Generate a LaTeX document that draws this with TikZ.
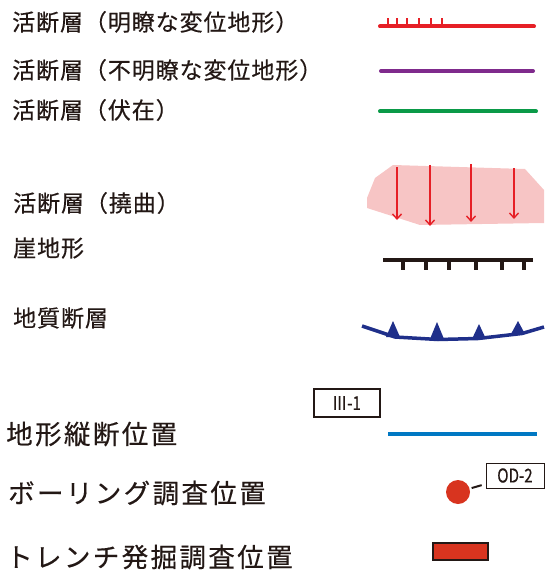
\documentclass[tikz,border=0pt]{standalone}
\usepackage{fontspec}
\newfontfamily\jp[LetterSpace=4, FakeBold=0.4]{Noto Sans CJK JP}
\newfontfamily\jpb[LetterSpace=9, FakeBold=0.4]{Noto Sans CJK JP}
\newfontfamily\lbl[FakeBold=0.3]{Noto Sans CJK JP}
\usetikzlibrary{arrows.meta}
\definecolor{ink}{HTML}{231815}
\definecolor{faultred}{HTML}{E61F26}
\definecolor{faultpurple}{HTML}{7F2A8C}
\definecolor{faultgreen}{HTML}{0A9A48}
\definecolor{flexpink}{HTML}{F7C5C5}
\definecolor{geoblue}{HTML}{1F2F8A}
\definecolor{secblue}{HTML}{0078C3}
\definecolor{borered}{HTML}{D8341F}
\tikzset{
  legtext/.style={anchor=west, inner sep=0pt, text=ink, font=\jp\fontsize{23}{27}\selectfont},
  legtextb/.style={anchor=west, inner sep=0pt, text=ink, font=\jpb\fontsize{26.5}{31}\selectfont},
  sym/.style={line width=4pt, line cap=round},
  flexarrow/.style={faultred, line width=1.6pt, -{Straight Barb[length=5pt,width=9pt,line width=1.4pt]}},
  tagbox/.style={draw=ink, fill=white, inner sep=0pt, text=ink, font=\lbl\fontsize{19}{21}\selectfont}
}
\begin{document}
\begin{tikzpicture}[x=1pt,y=-1pt]
\useasboundingbox (0,0) rectangle (544,572);
% texts
\node[legtext] (t1) at (12,22) {活断層（明瞭な変位地形）};
\node[legtext] (t2) at (12,70) {活断層（不明瞭な変位地形）};
\node[legtext] (t3) at (12,110) {活断層（伏在）};
\node[legtext] (t4) at (13,203) {活断層（撓曲）};
\node[legtext] (t5) at (13,248) {崖地形};
\node[legtext] (t6) at (13,318) {地質断層};
\node[legtextb] (t7) at (6,434) {地形縦断位置};
\node[legtextb] (t8) at (8,493) {ボーリング調査位置};
\node[legtextb] (t9) at (6,557) {トレンチ発掘調査位置};
% clear active fault
\draw[sym, faultred] (380,26.5) -- (534,26.5);
\foreach \x in {388,397,407,419,431,442}
  \draw[faultred, line width=2pt] (\x,27) -- (\x,18);
% unclear
\draw[sym, faultpurple] (381,71) -- (533,71);
% buried
\draw[sym, faultgreen] (380,111.5) -- (536,111.5);
% flexure
\fill[flexpink] (393,165) -- (525,169) -- (544,190) -- (544,223) -- (420,225) -- (367,208) -- (367,198) -- (375,178) -- cycle;
\draw[flexarrow] (397,167) -- (397,220);
\draw[flexarrow] (430,165) -- (430,226);
\draw[flexarrow] (471,164) -- (471,222);
\draw[flexarrow] (514,168) -- (514,219);
% scarp
\draw[ink, line width=4pt] (383,260) -- (533,260);
\foreach \x in {403,426,449,476,502,524}
  \draw[ink, line width=4pt] (\x,260) -- (\x,270);
% geological fault
\draw[geoblue, line width=3.5pt, line join=round] (362,326) -- (395,337) -- (438,339.5) -- (478,338.5) -- (522,333.5) -- (544,327);
\fill[geoblue] (386,337) -- (393,321) -- (400,337) -- cycle;
\fill[geoblue] (430,339) -- (437,322) -- (444,339) -- cycle;
\fill[geoblue] (472,339) -- (479,324) -- (486,339) -- cycle;
\fill[geoblue] (511,334) -- (518,321) -- (525,334) -- cycle;
% section position
\node[tagbox, line width=2pt, minimum width=66pt, minimum height=28pt] (b1) at (346.5,403) {\scalebox{0.8}[1]{Ⅲ-1}};
\draw[secblue, line width=4pt] (388,433.5) -- (537,433.5);
% boring
\node[circle, fill=borered, inner sep=0pt, minimum size=24pt] (bh) at (458,492) {};
\node[tagbox, line width=1pt, minimum width=58pt, minimum height=25pt] (b2) at (515,475.5) {\scalebox{0.8}[1]{OD-2}};
\draw[ink, line width=2pt, shorten <=2pt, shorten >=4pt] (bh) -- (b2);
% trench
\node[draw=ink, fill=borered, line width=2pt, inner sep=0pt, minimum width=55pt, minimum height=17pt] (tr) at (460,551) {};
\end{tikzpicture}
\end{document}
